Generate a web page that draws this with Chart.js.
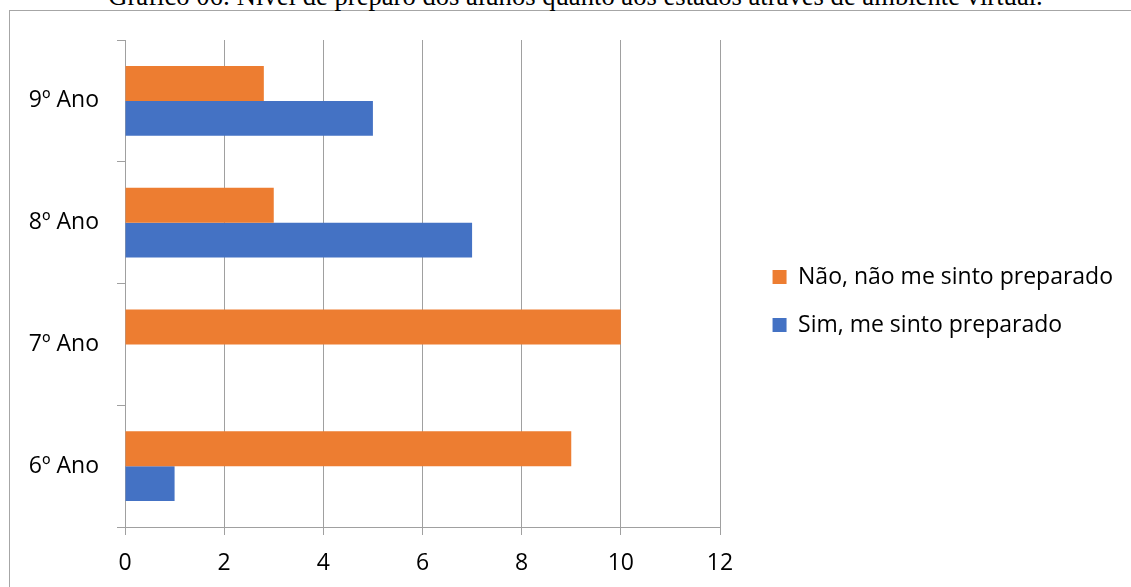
<!DOCTYPE html>
<html>
<head>
<meta charset="utf-8">
<script src="https://cdn.jsdelivr.net/npm/chart.js@4.4.0/dist/chart.umd.min.js"></script>
<style>
    html, body { margin: 0; padding: 0; background: #fff; overflow: hidden; }
    #wrap { position: relative; width: 1131px; height: 587px; overflow: hidden; }
    #frame {
        position: absolute; left: 9px; top: 10px; width: 1300px; height: 800px;
        border-left: 1px solid #a6a6a6; border-top: 1px solid #a6a6a6;
    }
    #title {
        position: absolute; left: 0; width: 1151px; text-align: center;
        font-family: "Liberation Serif", serif; white-space: nowrap; line-height: 1; color: #000;
    }
    #chart { position: absolute; left: 0; top: 0; }
</style>
</head>
<body>
<div id="wrap">
    <div id="frame"></div>
    <div id="title"></div>
    <canvas id="chart" width="1131" height="587"></canvas>
</div>
<script>
// ========= data =========
const titleText   = "Gráfico 06: Nível de preparo dos alunos quanto aos estados através de ambiente virtual.";
const categories  = ["9º Ano", "8º Ano", "7º Ano", "6º Ano"];
const seriesNames = ["Não, não me sinto preparado", "Sim, me sinto preparado"];
const naoValues   = [2.8, 3, 10, 9];
const simValues   = [5, 7, 0, 1];
const xTicks      = [0, 2, 4, 6, 8, 10, 12];

// ========= layout knobs =========
const FONT      = '"Open Sans", sans-serif';
const FS        = 23;            // axis + legend font size
const LEG_PAD   = 48 - FS;       // legend item spacing (48px between rows)
const BOX       = 14;
const GRID      = "#a0a0a0";
const RIGHT_PAD = 8;

// title sized to span the same width as the original
const title = document.getElementById("title");
const mctx = document.createElement("canvas").getContext("2d");
mctx.font = '100px "Liberation Serif"';
const titleSize = 100 * 935 / mctx.measureText(titleText).width;
title.textContent = titleText;
title.style.fontSize = titleSize + "px";
title.style.top = (5 - titleSize * 0.8375) + "px";   // baseline at y≈5

// legend width (Chart.js adds 10px after the text) -> filler axis so the plot ends at x=720
mctx.font = FS + "px " + FONT;
const textW = Math.max(...seriesNames.map(s => mctx.measureText(s).width));
const legendW = LEG_PAD + BOX + FS / 2 + textW + 10;
const fillerW = Math.max(0, 1131 - RIGHT_PAD - 720 - legendW);

// legend rows start so the first text line sits at y≈277
const legendTitlePad = 277 - 40 - LEG_PAD - FS / 2 - 12 * 1.2;

document.addEventListener("DOMContentLoaded", () => {
    new Chart(document.getElementById("chart"), {
        type: "bar",
        data: {
            labels: categories,
            datasets: [
                { label: seriesNames[0], data: naoValues, backgroundColor: "#ED7D31", yAxisID: "y" },
                { label: seriesNames[1], data: simValues, backgroundColor: "#4472C4", yAxisID: "y" }
            ]
        },
        options: {
            indexAxis: "y",
            responsive: false,
            animation: false,
            devicePixelRatio: 1,
            categoryPercentage: 0.571,
            barPercentage: 1,
            layout: { padding: { top: 40, left: 0, right: RIGHT_PAD, bottom: 0 } },
            plugins: {
                tooltip: { enabled: false },
                legend: {
                    position: "right",
                    align: "start",
                    maxWidth: 600,
                    title: { display: true, text: "", font: { size: 12 }, padding: { top: legendTitlePad, bottom: 0 } },
                    labels: {
                        boxWidth: BOX,
                        boxHeight: BOX,
                        padding: LEG_PAD,
                        color: "#000",
                        font: { family: FONT, size: FS }
                    }
                }
            },
            scales: {
                x: {
                    min: 0,
                    max: 12,
                    afterBuildTicks: s => { s.ticks = xTicks.map(v => ({ value: v })); },
                    afterFit: s => { s.height = 60; },
                    grid: { color: GRID, tickLength: 8, lineWidth: 1 },
                    border: { display: true, color: GRID },
                    ticks: { color: "#000", padding: 15, font: { family: FONT, size: FS } }
                },
                y: {
                    afterFit: s => { s.width = 125; },
                    grid: { drawOnChartArea: false, color: GRID, tickLength: 8, offset: true },
                    border: { display: true, color: GRID },
                    ticks: { color: "#000", padding: 18, font: { family: FONT, size: FS } }
                },
                r: {
                    type: "linear",
                    position: "right",
                    display: true,
                    afterFit: s => { s.width = fillerW; },
                    grid: { display: false },
                    border: { display: false },
                    ticks: { display: false }
                }
            }
        }
    });
});
</script>
</body>
</html>
